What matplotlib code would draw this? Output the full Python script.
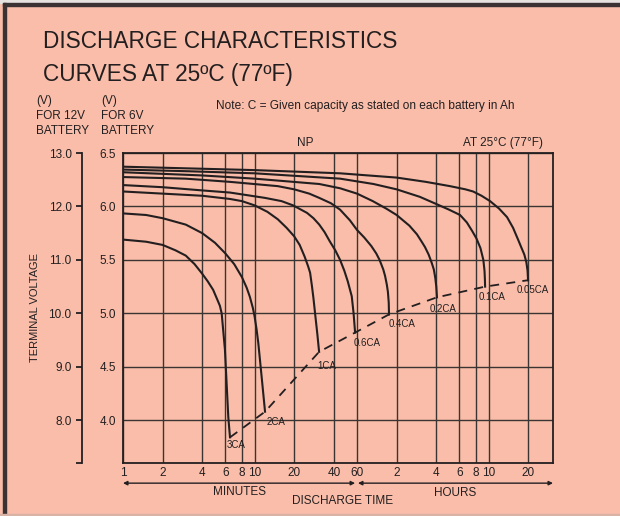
import matplotlib
matplotlib.use("Agg")
import matplotlib.pyplot as plt
from matplotlib.patches import Rectangle
from matplotlib.ticker import NullLocator

BG = "#F9BDA9"
INK = "#231F20"
GRID = "#3A3433"

# discharge time (minutes) and terminal voltage on the 6 V scale
T_3CA = [1, 1.5, 2, 2.5, 3, 3.5, 4, 4.4, 4.84, 5.2, 5.45, 5.62, 5.95, 6.31, 6.5]
V_3CA = [5.69, 5.67, 5.64, 5.59, 5.54, 5.46, 5.37, 5.30, 5.22, 5.13, 5.07, 5.00,
         4.66, 4.03, 3.84]
T_2CA = [1, 1.5, 2, 3, 4, 5, 6, 7, 8, 8.7, 9.2, 9.7, 10.0, 10.35, 10.67, 11.3, 12.0]
V_2CA = [5.935, 5.92, 5.89, 5.83, 5.75, 5.66, 5.56, 5.46, 5.34, 5.24, 5.155, 5.05,
         4.97, 4.85, 4.72, 4.41, 4.08]
T_1CA = [1, 2, 4, 6.5, 8, 10, 12.5, 15, 17.5, 20, 22, 24, 25.5, 26.4, 27.3, 28,
         28.8, 30, 30.9]
V_1CA = [6.14, 6.12, 6.10, 6.07, 6.05, 6.01, 5.95, 5.88, 5.80, 5.72, 5.64, 5.53,
         5.44, 5.38, 5.25, 5.14, 5.0, 4.8, 4.64]
T_06CA = [1, 2, 4, 6.5, 12, 16, 19.6, 25, 28, 31, 34, 37.4, 41, 44.6, 48, 51, 54.7,
          56.5, 58]
V_06CA = [6.20, 6.18, 6.15, 6.13, 6.08, 6.05, 6.01, 5.94, 5.89, 5.83, 5.76, 5.67,
          5.59, 5.50, 5.40, 5.30, 5.16, 5.0, 4.82]
T_04CA = [1, 3, 6.5, 15, 20, 26, 31, 38, 44.6, 53, 60, 68, 77, 84, 89, 95, 98, 101,
          103, 104.5, 105]
V_04CA = [6.275, 6.26, 6.23, 6.19, 6.16, 6.12, 6.08, 6.03, 5.97, 5.87, 5.78, 5.71,
          5.63, 5.56, 5.50, 5.41, 5.35, 5.27, 5.20, 5.10, 4.99]
T_02CA = [1, 4, 10, 31, 44.6, 60, 79, 100, 120, 150, 171, 186, 197, 210, 222, 230,
          236, 240, 243]
V_02CA = [6.32, 6.29, 6.26, 6.21, 6.17, 6.12, 6.05, 5.98, 5.92, 5.82, 5.74, 5.67,
          5.62, 5.55, 5.47, 5.41, 5.33, 5.25, 5.15]
T_01CA = [1, 3, 10, 44.6, 80, 120, 180, 243, 300, 364, 410, 450, 485, 520, 547,
          558, 562, 564]
V_01CA = [6.345, 6.33, 6.31, 6.26, 6.21, 6.16, 6.09, 6.02, 5.97, 5.92, 5.85, 5.77,
          5.70, 5.61, 5.50, 5.40, 5.32, 5.25]
T_005CA = [1, 10, 44.6, 120, 200, 305, 400, 457, 530, 615, 720, 828, 920, 1004,
           1060, 1120, 1160, 1185, 1196]
V_005CA = [6.372, 6.34, 6.31, 6.27, 6.23, 6.19, 6.16, 6.14, 6.10, 6.05, 5.98, 5.90,
           5.80, 5.69, 5.62, 5.55, 5.48, 5.40, 5.31]

RATES = ["3CA", "2CA", "1CA", "0.6CA", "0.4CA", "0.2CA", "0.1CA", "0.05CA"]
TIMES = [T_3CA, T_2CA, T_1CA, T_06CA, T_04CA, T_02CA, T_01CA, T_005CA]
VOLTS = [V_3CA, V_2CA, V_1CA, V_06CA, V_04CA, V_02CA, V_01CA, V_005CA]

# where each rate label sits (minutes, volts)
LABEL_T = [7.3, 14.5, 35.5, 71, 133, 272, 634, 1289]
LABEL_V = [3.77, 3.98, 4.505, 4.724, 4.90, 5.04, 5.155, 5.217]

X_TICKS = [1, 2, 4, 6, 8, 10, 20, 40, 60, 120, 240, 360, 480, 600, 1200]
X_LABELS = ["1", "2", "4", "6", "8", "10", "20", "40", "60",
            "2", "4", "6", "8", "10", "20"]
Y6_TICKS = [4.0, 4.5, 5.0, 5.5, 6.0, 6.5]
Y12_TICKS = [7.2, 8, 9, 10, 11, 12, 13]
Y12_LABELS = ["", "8.0", "9.0", "10.0", "11.0", "12.0", "13.0"]

W, H = 620, 516
plt.rcParams["font.family"] = ["Liberation Sans", "DejaVu Sans"]


def px(x, y):
    return x / W, 1 - y / H


fig = plt.figure(figsize=(W / 100, H / 100), dpi=100, facecolor=BG)

# frame remnants of the scanned page
fig.patches.append(Rectangle((0, 1 - 3 / H), 1, 3 / H, transform=fig.transFigure,
                             color="#E6E2E0", zorder=0))
fig.patches.append(Rectangle((3 / W, 1 - 6 / H), 1, 2.5 / H, transform=fig.transFigure,
                             color="#3B3333", zorder=1))
fig.patches.append(Rectangle((3 / W, 0), 2.5 / W, 1 - 3 / H, transform=fig.transFigure,
                             color="#3B3333", zorder=1))
fig.patches.append(Rectangle((0, 0), 1, 2 / H, transform=fig.transFigure,
                             color="#D9B2A6", zorder=1))

ax = fig.add_axes([123 / W, 53 / H, 430 / W, 310 / H])
ax.set_facecolor(BG)
ax.set_xscale("log")
ax.set_xlim(1, 1850)
ax.set_ylim(3.6, 6.5)
ax.set_xticks(X_TICKS)
ax.set_xticklabels(X_LABELS)
ax.xaxis.set_minor_locator(NullLocator())
ax.set_yticks(Y6_TICKS)
ax.set_yticklabels([f"{v:.1f}" for v in Y6_TICKS])
ax.tick_params(length=0, labelsize=8.5, colors=INK)
ax.tick_params(axis="x", pad=3)
ax.tick_params(axis="y", pad=5)
ax.grid(True, color=GRID, lw=1.0)
for s in ax.spines.values():
    s.set_color(INK)
    s.set_linewidth(1.3)

for t, v in zip(TIMES, VOLTS):
    ax.plot(t, v, color=INK, lw=1.5, zorder=3)

ends_t = [t[-1] for t in TIMES]
ends_v = [v[-1] for v in VOLTS]
ax.plot(ends_t, ends_v, color=INK, lw=1.3, ls=(0, (5, 4)), zorder=3)

for name, lt, lv in zip(RATES, LABEL_T, LABEL_V):
    ax.text(lt, lv, name, fontsize=7, color=INK, ha="center", va="center", zorder=4)

# 12 V scale on its own spine
ax12 = fig.add_axes([82 / W, 53 / H, 0.0005, 310 / H])
ax12.patch.set_visible(False)
ax12.set_ylim(7.2, 13.0)
for s in ["top", "right", "bottom"]:
    ax12.spines[s].set_visible(False)
ax12.spines["left"].set_color(INK)
ax12.spines["left"].set_linewidth(1.3)
ax12.set_xticks([])
ax12.set_yticks(Y12_TICKS)
ax12.set_yticklabels(Y12_LABELS)
ax12.tick_params(axis="y", length=4.5, width=1.3, color=INK, labelsize=8.5,
                 labelcolor=INK, pad=3)

# time arrows
tr = ax.get_xaxis_transform()
arrow = dict(arrowstyle="<|-|>", color=INK, lw=1.0, mutation_scale=6,
             shrinkA=0, shrinkB=0)
ax.annotate("", xy=(1, -0.065), xytext=(58, -0.065), xycoords=tr,
            arrowprops=arrow)
ax.annotate("", xy=(61, -0.065), xytext=(1850, -0.065), xycoords=tr,
            arrowprops=arrow)

fig.text(*px(240, 492), "MINUTES", fontsize=8.5, color=INK, ha="center", va="center")
fig.text(*px(455, 493), "HOURS", fontsize=8.5, color=INK, ha="center", va="center")
fig.text(*px(343, 501), "DISCHARGE TIME", fontsize=8.5, color=INK,
         ha="center", va="center")
fig.text(*px(35, 308), "TERMINAL VOLTAGE", fontsize=8, color=INK, rotation=90,
         ha="center", va="center")

fig.text(*px(43, 42), "DISCHARGE CHARACTERISTICS", fontsize=16.3, color=INK,
         ha="left", va="center")
fig.text(*px(43, 74), "CURVES AT 25\u00baC (77\u00baF)", fontsize=16.3, color=INK,
         ha="left", va="center")

fig.text(*px(36, 116), "(V)\nFOR 12V\nBATTERY", fontsize=8.5, color=INK,
         ha="left", va="center", linespacing=1.35)
fig.text(*px(101, 116), "(V)\nFOR 6V\nBATTERY", fontsize=8.5, color=INK,
         ha="left", va="center", linespacing=1.35)
fig.text(*px(216, 106), "Note: C = Given capacity as stated on each battery in Ah",
         fontsize=8.6, color=INK, ha="left", va="center")
fig.text(*px(305, 143), "NP", fontsize=8.5, color=INK, ha="center", va="center")
fig.text(*px(543, 143), "AT 25\u00b0C (77\u00b0F)", fontsize=8.5, color=INK,
         ha="right", va="center")

fig.savefig("out.png", dpi=100, facecolor=BG)
